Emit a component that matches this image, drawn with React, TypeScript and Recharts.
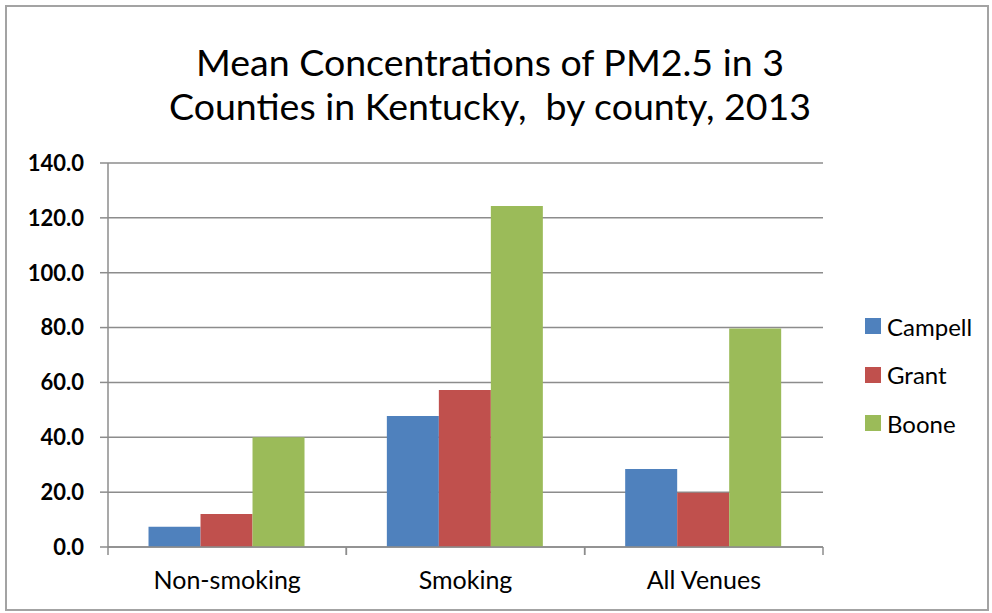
import { BarChart, Bar, XAxis, YAxis, CartesianGrid, Legend } from "recharts";

const venues = ["Non-smoking", "Smoking", "All Venues"];

const campellValues = [7.4, 47.8, 28.4];
const grantValues = [12.0, 57.2, 19.8];
const booneValues = [40.0, 124.3, 79.7];

const yTicks = [0, 20, 40, 60, 80, 100, 120, 140];

const counties: { key: string; color: string }[] = [
    { key: "Campell", color: "#4F81BD" },
    { key: "Grant", color: "#C0504D" },
    { key: "Boone", color: "#9BBB59" },
];

const chartData = venues.map((venue, i) => ({
    venue,
    Campell: campellValues[i],
    Grant: grantValues[i],
    Boone: booneValues[i],
}));

const WIDTH = 992;
const HEIGHT = 613;
const MARGIN = { top: 163, right: 169, bottom: 6, left: 0 };
const Y_AXIS_WIDTH = 108;
const X_AXIS_HEIGHT = 60;
const BAND = (WIDTH - MARGIN.left - Y_AXIS_WIDTH - MARGIN.right) / venues.length;
const AXIS_COLOR = "#8c8c8c";
const FONT = "Lato, 'Open Sans', sans-serif";

// category label plus the little tick marks on the band edges
const VenueTick = ({ x, y, payload }: { x: number; y: number; payload: { value: string } }) => {
    const top = y - 10;
    return (
        <g>
            <line x1={x - BAND / 2} x2={x - BAND / 2} y1={top} y2={top + 8} stroke={AXIS_COLOR} strokeWidth={1.5} />
            <line x1={x + BAND / 2} x2={x + BAND / 2} y1={top} y2={top + 8} stroke={AXIS_COLOR} strokeWidth={1.5} />
            <text x={x} y={y + 32} textAnchor="middle" fontSize={25} fontFamily={FONT} fill="#000">
                {payload.value}
            </text>
        </g>
    );
};

const CountyLegend = () => (
    <div style={{ fontFamily: FONT }}>
        {counties.map((c) => (
            <div
                key={c.key}
                style={{ display: "flex", alignItems: "center", height: 48.5, fontSize: 24, color: "#000" }}
            >
                <span style={{ width: 16, height: 16, background: c.color, marginRight: 6, display: "inline-block" }} />
                <span>{c.key}</span>
            </div>
        ))}
    </div>
);

export default function App() {
    return (
        <div style={{ position: "absolute", left: 0, top: 0, width: WIDTH, height: HEIGHT, background: "#fff" }}>
            <div
                style={{
                    position: "absolute",
                    left: 5,
                    top: 5,
                    width: WIDTH - 8,
                    height: HEIGHT - 7,
                    border: "2px solid #a3a3a3",
                    boxSizing: "border-box",
                }}
            />
            <div
                style={{
                    position: "absolute",
                    left: 0,
                    top: 40,
                    width: 980,
                    textAlign: "center",
                    fontFamily: FONT,
                    fontSize: 37.5,
                    lineHeight: "44px",
                    color: "#000",
                }}
            >
                Mean Concentrations of PM2.5 in 3
                <br />
                Counties in Kentucky,&nbsp; by county, 2013
            </div>
            <BarChart
                width={WIDTH}
                height={HEIGHT}
                data={chartData}
                margin={MARGIN}
                barGap={0}
                barCategoryGap="17%"
            >
                <CartesianGrid vertical={false} stroke={AXIS_COLOR} strokeWidth={1.5} />
                <XAxis
                    dataKey="venue"
                    height={X_AXIS_HEIGHT}
                    axisLine={{ stroke: AXIS_COLOR, strokeWidth: 1.5 }}
                    tickLine={false}
                    tickSize={8}
                    tick={VenueTick}
                    interval={0}
                />
                <YAxis
                    width={Y_AXIS_WIDTH}
                    domain={[0, 140]}
                    ticks={yTicks}
                    interval={0}
                    tickFormatter={(v: number) => v.toFixed(1)}
                    axisLine={{ stroke: AXIS_COLOR, strokeWidth: 1.5 }}
                    tickLine={{ stroke: AXIS_COLOR, strokeWidth: 1.5 }}
                    tickSize={8}
                    tickMargin={16}
                    tick={{ fill: "#000", fontSize: 22, fontFamily: FONT, fontWeight: "bold" }}
                />
                <Legend
                    layout="horizontal"
                    align="center"
                    verticalAlign="middle"
                    content={CountyLegend}
                    wrapperStyle={{ left: 865, top: 302, width: 127 }}
                />
                {counties.map((c) => (
                    <Bar key={c.key} dataKey={c.key} fill={c.color} isAnimationActive={false} />
                ))}
            </BarChart>
        </div>
    );
}
